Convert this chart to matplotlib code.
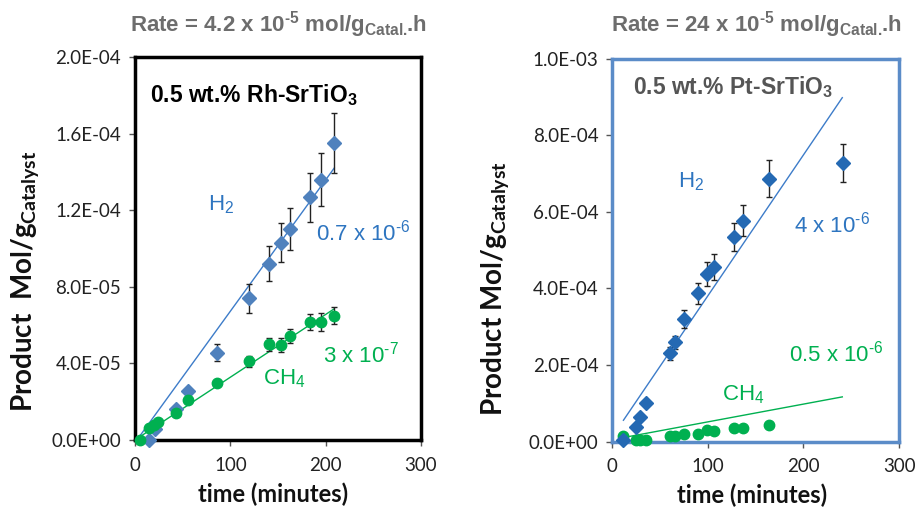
import numpy as np
import matplotlib
matplotlib.use("Agg")
import matplotlib.pyplot as plt

plt.rcParams['font.family'] = ['Lato', 'DejaVu Sans']
plt.rcParams['mathtext.default'] = 'regular'

# ---- data ----
# 0.5 wt.% Rh-SrTiO3
rh_h2_t = [15, 21, 43, 56, 86, 120, 141, 153, 163, 184, 195, 209]
rh_h2 = [0, 5.6e-6, 1.6e-5, 2.57e-5, 4.56e-5, 7.4e-5, 9.2e-5, 1.03e-4, 1.10e-4, 1.267e-4, 1.36e-4, 1.55e-4]
rh_h2_err = [0, 0, 0, 1.2e-6, 4.4e-6, 7.5e-6, 9.2e-6, 1.03e-5, 1.1e-5, 1.27e-5, 1.36e-5, 1.57e-5]
rh_ch4_t = [5, 15, 20, 24, 43, 56, 86, 120, 141, 153, 163, 184, 195, 209]
rh_ch4 = [0, 6.1e-6, 7.8e-6, 9.6e-6, 1.43e-5, 2.09e-5, 3.0e-5, 4.11e-5, 5.0e-5, 4.96e-5, 5.43e-5, 6.16e-5, 6.16e-5, 6.49e-5]
rh_ch4_err = [0, 0, 0, 0, 0, 0, 0, 3e-6, 3.3e-6, 3.5e-6, 3.8e-6, 4.2e-6, 4.5e-6, 4.4e-6]
rh_h2_fit_t = [2, 209]
rh_h2_fit = [0, 1.42e-4]
rh_ch4_fit_t = [0, 209]
rh_ch4_fit = [0, 6.85e-5]

# 0.5 wt.% Pt-SrTiO3
pt_h2_t = [11, 24.5, 29, 35, 60, 66, 75, 90, 99, 106, 127, 137, 164, 241]
pt_h2 = [4e-6, 3.9e-5, 6.5e-5, 1.0e-4, 2.31e-4, 2.59e-4, 3.21e-4, 3.87e-4, 4.38e-4, 4.56e-4, 5.34e-4, 5.77e-4, 6.87e-4, 7.28e-4]
pt_h2_err = [0, 0, 0, 0, 1.65e-5, 1.74e-5, 2.35e-5, 2.7e-5, 3.1e-5, 3.3e-5, 3.7e-5, 4.0e-5, 4.9e-5, 5.0e-5]
pt_ch4_t = [11, 24.5, 29, 35, 60, 66, 75, 90, 99, 106, 127, 137, 164]
pt_ch4 = [1.57e-5, 4e-6, 4e-6, 5e-6, 1.5e-5, 1.6e-5, 2.0e-5, 2.0e-5, 3.05e-5, 2.8e-5, 3.5e-5, 3.7e-5, 4.36e-5]
pt_h2_fit_t = [11.6, 240.6]
pt_h2_fit = [5.6e-5, 8.98e-4]
pt_ch4_fit_t = [10.9, 240.6]
pt_ch4_fit = [1.05e-5, 1.17e-4]

x_ticks = [0, 100, 200, 300]
rh_yticks = [0, 4e-5, 8e-5, 1.2e-4, 1.6e-4, 2e-4]
rh_ylabels = ["0.0E+00", "4.0E-05", "8.0E-05", "1.2E-04", "1.6E-04", "2.0E-04"]
pt_yticks = [0, 2e-4, 4e-4, 6e-4, 8e-4, 1e-3]
pt_ylabels = ["0.0E+00", "2.0E-04", "4.0E-04", "6.0E-04", "8.0E-04", "1.0E-03"]

GREEN = '#00b050'
TXT_BLUE = '#2e75c0'
HELV = 'Liberation Sans'
HY = '\u2010'  # short hyphen for the superscripts

fig = plt.figure(figsize=(9.16, 5.09), dpi=100)
ax1 = fig.add_axes([0.1474, 0.1356, 0.3122, 0.7525])
ax2 = fig.add_axes([0.6685, 0.1322, 0.313, 0.7527])


def style_axes(ax, frame_color, yticks, ylabels, ymax):
    ax.set_xlim(0, 300)
    ax.set_ylim(0, ymax)
    ax.set_xticks(x_ticks)
    ax.set_yticks(yticks)
    ax.set_yticklabels(ylabels)
    for s in ax.spines.values():
        s.set_color(frame_color)
        s.set_linewidth(2.5)
    ax.tick_params(direction='out', length=4, width=1, color='#555555',
                   labelsize=13.5, labelcolor='#222222', pad=6)
    ax.tick_params(axis='x', pad=8)


# ---- left: Rh ----
ax = ax1
style_axes(ax, 'black', rh_yticks, rh_ylabels, 2e-4)
ax.plot(rh_h2_fit_t, rh_h2_fit, color='#3d7cc9', lw=1, zorder=2)
ax.plot(rh_ch4_fit_t, rh_ch4_fit, color=GREEN, lw=1, zorder=2)
ax.errorbar(rh_h2_t, rh_h2, yerr=rh_h2_err, fmt='D', ms=7.5, color='#4f81bd',
            ecolor='#222222', elinewidth=1, capsize=2.5, capthick=1, zorder=3, clip_on=False)
ax.errorbar(rh_ch4_t, rh_ch4, yerr=rh_ch4_err, fmt='o', ms=7.5, color=GREEN,
            ecolor='#222222', elinewidth=1, capsize=2.5, capthick=1, zorder=3, clip_on=False)
ax.text(15.5, 1.80e-4, r"0.5 wt.% Rh-SrTiO$_3$", family=HELV, weight='bold',
        fontsize=16.5, color='black', va='center')
ax.text(77, 1.227e-4, r"H$_2$", family=HELV, fontsize=16, color=TXT_BLUE, va='center')
ax.text(190, 1.081e-4, "0.7 x 10$^{" + HY + "6}$", family=HELV, fontsize=16, color=TXT_BLUE, va='center')
ax.text(197, 4.44e-5, "3 x 10$^{" + HY + "7}$", family=HELV, fontsize=16, color=GREEN, va='center')
ax.text(134, 3.2e-5, r"CH$_4$", family=HELV, fontsize=16, color=GREEN, va='center')
ax.text(0.502, 1.066, "Rate = 4.2 x 10$^{" + HY + "5}$ mol/g$_{Catal.}\\!$.h", transform=ax.transAxes,
        family=HELV, weight='bold', fontsize=16, color='#6d6d6d', ha='center', va='baseline')
ax.set_xlabel("time (minutes)", fontsize=17, weight='bold', color='#111111')
ax.xaxis.set_label_coords(0.483, -0.112)
ax.set_ylabel(r"Product  Mol/g$_{Catalyst}$", fontsize=20, weight='bold', color='#111111')
ax.yaxis.set_label_coords(-0.33, 0.415)

# ---- right: Pt ----
ax = ax2
style_axes(ax, '#5b8cc8', pt_yticks, pt_ylabels, 1e-3)
ax.plot(pt_h2_fit_t, pt_h2_fit, color='#3d7cc9', lw=1, zorder=2)
ax.plot(pt_ch4_fit_t, pt_ch4_fit, color=GREEN, lw=1, zorder=2)
ax.errorbar(pt_h2_t, pt_h2, yerr=pt_h2_err, fmt='D', ms=7, color='#2469b3',
            ecolor='#222222', elinewidth=1, capsize=2.5, capthick=1, zorder=3, clip_on=False)
ax.plot(pt_ch4_t, pt_ch4, 'o', ms=7.5, color=GREEN, zorder=3, clip_on=False)
ax.text(21.7, 9.26e-4, r"0.5 wt.% Pt-SrTiO$_3$", family=HELV, weight='bold',
        fontsize=16.5, color='#555555', va='center')
ax.text(68.7, 6.79e-4, r"H$_2$", family=HELV, fontsize=16, color=TXT_BLUE, va='center')
ax.text(190, 5.66e-4, "4 x 10$^{" + HY + "6}$", family=HELV, fontsize=16, color=TXT_BLUE, va='center')
ax.text(184.6, 2.31e-4, "0.5 x 10$^{" + HY + "6}$", family=HELV, fontsize=16, color=GREEN, va='center')
ax.text(114.4, 1.22e-4, r"CH$_4$", family=HELV, fontsize=16, color=GREEN, va='center')
ax.text(0.501, 1.0705, "Rate = 24 x 10$^{" + HY + "5}$ mol/g$_{Catal.}\\!$.h", transform=ax.transAxes,
        family=HELV, weight='bold', fontsize=16, color='#6d6d6d', ha='center', va='baseline')
ax.set_xlabel("time (minutes)", fontsize=17, weight='bold', color='#111111')
ax.xaxis.set_label_coords(0.489, -0.110)
ax.set_ylabel(r"Product Mol/g$_{Catalyst}$", fontsize=20, weight='bold', color='#111111')
ax.yaxis.set_label_coords(-0.353, 0.40)

fig.savefig("out.png", dpi=100)
